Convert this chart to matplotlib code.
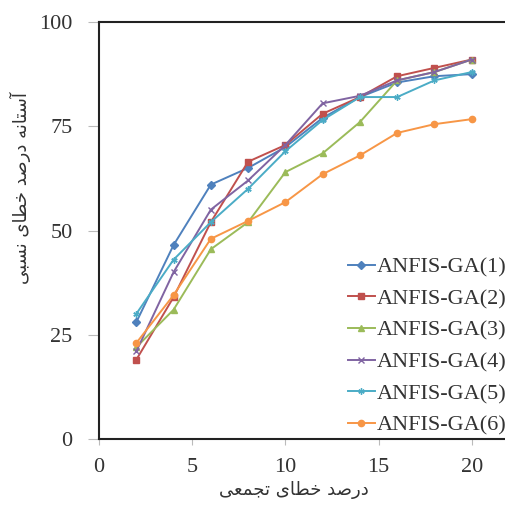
import numpy as np
import matplotlib
matplotlib.use("Agg")
import matplotlib.pyplot as plt

# data
x_vals = [2, 4, 6, 8, 10, 12, 14, 16, 18, 20]
ga1 = [28, 46.5, 61, 65, 70, 77, 82, 85.5, 87, 87.5]
ga2 = [19, 34, 52, 66.5, 70.5, 78, 82, 87, 89, 91]
ga3 = [22, 31, 45.5, 52, 64, 68.5, 76, 86, 88, 91]
ga4 = [21, 40, 55, 62, 70.5, 80.5, 82.3, 86, 88, 91]
ga5 = [30, 43, 52, 60, 69, 76.5, 82, 82, 86, 88]
ga6 = [23, 34.5, 48, 52.3, 56.8, 63.5, 68, 73.4, 75.5, 76.7]
series_names = ["ANFIS-GA(1)", "ANFIS-GA(2)", "ANFIS-GA(3)",
                "ANFIS-GA(4)", "ANFIS-GA(5)", "ANFIS-GA(6)"]
x_ticks = [0, 5, 10, 15, 20]
y_ticks = [0, 25, 50, 75, 100]
x_label = "درصد خطای تجمعی"
y_label = "آستانه درصد خطای نسبی"

colors = ["#4F81BD", "#C0504D", "#9BBB59", "#8064A2", "#4BACC6", "#F79646"]
markers = ["D", "s", "^", "x", (6, 2, 0), "o"]

# tiny persian shaper: (isolated, final, initial, medial)
FORMS = {
    "ا": (0xFE8D, 0xFE8E, None, None),
    "آ": (0xFE81, 0xFE82, None, None),
    "د": (0xFEA9, 0xFEAA, None, None),
    "ر": (0xFEAD, 0xFEAE, None, None),
    "ص": (0xFEB9, 0xFEBA, 0xFEBB, 0xFEBC),
    "خ": (0xFEA5, 0xFEA6, 0xFEA7, 0xFEA8),
    "ط": (0xFEC1, 0xFEC2, 0xFEC3, 0xFEC4),
    "ی": (0xFEEF, 0xFEF0, 0xFEF3, 0xFEF4),
    "ت": (0xFE95, 0xFE96, 0xFE97, 0xFE98),
    "ج": (0xFE9D, 0xFE9E, 0xFE9F, 0xFEA0),
    "م": (0xFEE1, 0xFEE2, 0xFEE3, 0xFEE4),
    "ع": (0xFEC9, 0xFECA, 0xFECB, 0xFECC),
    "س": (0xFEB1, 0xFEB2, 0xFEB3, 0xFEB4),
    "ن": (0xFEE5, 0xFEE6, 0xFEE7, 0xFEE8),
    "ه": (0xFEE9, 0xFEEA, 0xFEEB, 0xFEEC),
    "ب": (0xFE8F, 0xFE90, 0xFE91, 0xFE92),
}


def shape(text):
    out = []
    for i, c in enumerate(text):
        if c not in FORMS:
            out.append(c)
            continue
        prev = text[i - 1] if i > 0 else ""
        nxt = text[i + 1] if i + 1 < len(text) else ""
        pj = prev in FORMS and FORMS[prev][2] is not None
        nj = nxt in FORMS and FORMS[c][2] is not None
        f = FORMS[c]
        if pj and nj:
            code = f[3]
        elif pj:
            code = f[1]
        elif nj:
            code = f[2]
        else:
            code = f[0]
        out.append(chr(code))
    return "".join(out)[::-1]


W, H = 506, 509
fig = plt.figure(figsize=(W / 100, H / 100), dpi=100)
ax = fig.add_axes([99 / W, 70 / H, 410 / W, 417 / H])

all_series = [ga1, ga2, ga3, ga4, ga5, ga6]
for vals, name, c, m in zip(all_series, series_names, colors, markers):
    ax.plot(x_vals, vals, color=c, lw=1.4, marker=m, ms=4.5,
            mec=c, mfc=c, mew=1.0, label=name)

ax.set_xlim(0, 22)
ax.set_ylim(0, 100)
ax.set_xticks(x_ticks)
ax.set_yticks(y_ticks)
for s in ax.spines.values():
    s.set_linewidth(1.5)
    s.set_color("#222222")

ax.tick_params(axis="y", length=8, width=0.8, color="#bbbbbb", pad=11,
               labelsize=16)
ax.tick_params(axis="x", length=4.5, width=0.8, color="#bbbbbb", pad=9,
               labelsize=16)
for lab in ax.get_xticklabels() + ax.get_yticklabels():
    lab.set_family("Liberation Serif")
    lab.set_color("#333333")

leg = ax.legend(loc="upper left", bbox_to_anchor=(348 / W, 252 / H),
                bbox_transform=fig.transFigure, frameon=False,
                prop={"family": "Liberation Serif", "size": 16},
                handlelength=1.2, handletextpad=0.1, borderpad=0,
                borderaxespad=0, labelspacing=0.5)
for t in leg.get_texts():
    t.set_color("#333333")

fig.text(294 / W, 1 - 490 / H, shape(x_label), ha="center", va="center",
         fontsize=13, family="DejaVu Sans", color="#333333")
fig.text(20 / W, 1 - 188 / H, shape(y_label), ha="center", va="center",
         rotation=90, fontsize=13, family="DejaVu Sans", color="#333333")

fig.savefig("out.png", dpi=100)
